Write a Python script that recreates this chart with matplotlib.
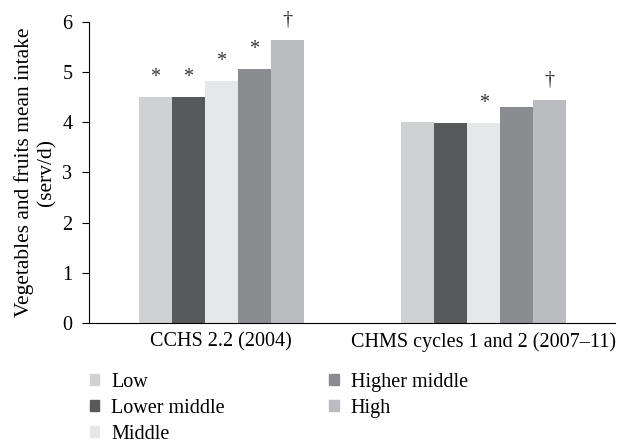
import numpy as np
import matplotlib.pyplot as plt
from matplotlib.patches import Patch

plt.rcParams['font.family'] = ['Liberation Serif', 'DejaVu Serif']

# data
surveys = ['CCHS 2.2 (2004)', 'CHMS cycles 1 and 2 (2007\u201311)']
groups = ['Low', 'Lower middle', 'Middle', 'Higher middle', 'High']
colors = ['#d0d1d3', '#58595b', '#e6e7e8', '#8b8c8f', '#bbbcc0']
values = [
    [4.51, 4.01],   # Low
    [4.50, 3.98],   # Lower middle
    [4.82, 3.98],   # Middle
    [5.06, 4.30],   # Higher middle
    [5.64, 4.44],   # High
]
marks = [
    ['*', ''],
    ['*', ''],
    ['*', '*'],
    ['*', ''],
    ['\u2020', '\u2020'],
]

fs = 14.5
fig = plt.figure(figsize=(6.22, 4.44), dpi=100)
ax = fig.add_axes([0.143, 0.2725, 0.846, 0.678])

x = np.arange(len(surveys))
width = 0.1257
for i, g in enumerate(groups):
    pos = x + (i - 2) * width
    ax.bar(pos, values[i], width=width, color=colors[i], label=g)
    for p, v, m in zip(pos, values[i], marks[i]):
        if m:
            ax.text(p, v + 0.2, m, ha='center', va='bottom', fontsize=fs,
                    color='#333333')

ax.set_xlim(-0.503, 1.501)
ax.set_ylim(0, 6)
ax.set_yticks(range(0, 7))
ax.set_xticks(x)
ax.set_xticklabels(surveys, fontsize=fs)
ax.tick_params(axis='x', length=0, pad=7)
ax.tick_params(axis='y', labelsize=fs, length=5, pad=7, direction='out')
ax.spines['top'].set_visible(False)
ax.spines['right'].set_visible(False)
ax.set_ylabel('Vegetables and fruits mean intake\n(serv/d)', fontsize=15.4,
              linespacing=1.25)

handles = [Patch(color=c) for c in colors]
fig.legend(handles, groups, ncol=2, loc='upper left', bbox_to_anchor=(0.1447, 0.161),
           frameon=False, fontsize=fs, handlelength=0.45, handleheight=0.45,
           handletextpad=0.6, columnspacing=5.2, labelspacing=0.36,
           borderaxespad=0, borderpad=0)

fig.savefig('out.png', dpi=100)
